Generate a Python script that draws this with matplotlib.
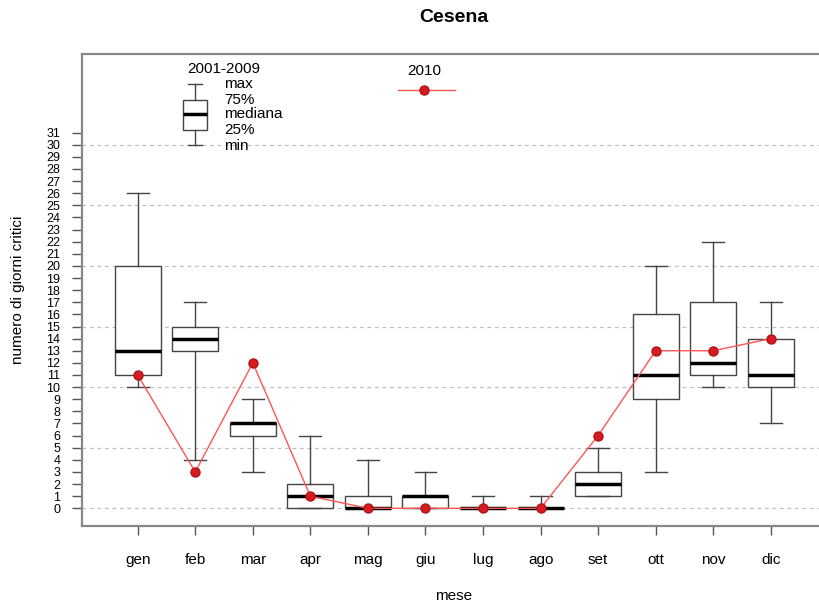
import matplotlib
matplotlib.use("Agg")
import matplotlib.pyplot as plt
import numpy as np

plt.rcParams['font.family'] = ['Liberation Sans', 'DejaVu Sans']

months = ["gen", "feb", "mar", "apr", "mag", "giu", "lug", "ago", "set", "ott", "nov", "dic"]
whislo = [10, 4, 3, 0, 0, 0, 0, 0, 1, 3, 10, 7]
q1 = [11, 13, 6, 0, 0, 0, 0, 0, 1, 9, 11, 10]
med = [13, 14, 7, 1, 0, 1, 0, 0, 2, 11, 12, 11]
q3 = [20, 15, 7, 2, 1, 1, 0, 0, 3, 16, 17, 14]
whishi = [26, 17, 9, 6, 4, 3, 1, 1, 5, 20, 22, 17]
y2010 = [11, 3, 12, 1, 0, 0, 0, 0, 6, 13, 13, 14]

legend_stats = {"whislo": 30, "q1": 31.2, "med": 32.5, "q3": 33.7, "whishi": 35}
legend_labels = ["max", "75%", "mediana", "25%", "min"]
yticks = list(range(0, 32))
grid_vals = [0, 5, 10, 15, 20, 25, 30]

fig = plt.figure(figsize=(8.19, 6.07), dpi=100)
ax = fig.add_axes([82/819, (607-526)/607, (822-82)/819, (526-54.3)/607])

pos = np.arange(1, len(months) + 1)
stats = [dict(whislo=a, q1=b, med=c, q3=d, whishi=e, fliers=[])
         for a, b, c, d, e in zip(whislo, q1, med, q3, whishi)]

box_kw = dict(patch_artist=True, showfliers=False,
              boxprops=dict(facecolor='white', edgecolor='#444444', linewidth=1.0),
              medianprops=dict(color='black', linewidth=2.5, solid_capstyle='butt'),
              whiskerprops=dict(color='#444444', linewidth=1.0),
              capprops=dict(color='#444444', linewidth=1.0))

for g in grid_vals:
    ax.axhline(g, color='#c0c0c0', linewidth=0.9, linestyle=(0, (3, 3)), zorder=0)

ax.bxp(stats, positions=pos, widths=0.8, capwidths=0.38, zorder=2, **box_kw)

ax.plot(pos, y2010, color='#ff5555', linewidth=1.0, marker='o', markersize=6.5,
        markerfacecolor='#d81b20', markeredgecolor='#b01515', zorder=4)

# legend
lst = dict(legend_stats, fliers=[])
ax.bxp([lst], positions=[2], widths=0.42, capwidths=0.24, zorder=2, **box_kw)
ax.text(2.5, 36.25, "2001-2009", ha='center', va='center', fontsize=11)
lab_y = [35.0, 33.7, 32.5, 31.2, 29.9]
for lab, yy in zip(legend_labels, lab_y):
    ax.text(2.5, yy, lab, ha='left', va='center', fontsize=11)
ax.text(5.98, 36.1, "2010", ha='center', va='center', fontsize=11)
ax.plot([5.53, 6.52], [34.5, 34.5], color='#ff5555', linewidth=1.0, zorder=4)
ax.plot([5.98], [34.5], linestyle='none', marker='o', markersize=6.5,
        markerfacecolor='#d81b20', markeredgecolor='#b01515', zorder=5)

ax.set_xlim(0.032, 12.89)
ax.set_ylim(-1.46, 37.46)
ax.set_xticks(pos)
ax.set_xticklabels(months, fontsize=11)
ax.set_yticks(yticks)
ax.set_yticklabels([str(v) for v in yticks], fontsize=9)
ax.tick_params(axis='y', length=7.2, width=1.0, color='#555555', pad=8.5)
ax.tick_params(axis='x', length=6.5, width=1.0, color='#555555', pad=13)
for s in ax.spines.values():
    s.set_color('#888888')
    s.set_linewidth(1.6)

fig.text(454/819, 1 - 17/607, "Cesena", ha='center', va='center', fontsize=14, fontweight='bold')
fig.text(18/819, 1 - 290/607, "numero di giorni critici", ha='center', va='center', rotation=90, fontsize=11)
fig.text(454/819, 1 - 596/607, "mese", ha='center', va='center', fontsize=11)

fig.savefig("out.png", dpi=100)
